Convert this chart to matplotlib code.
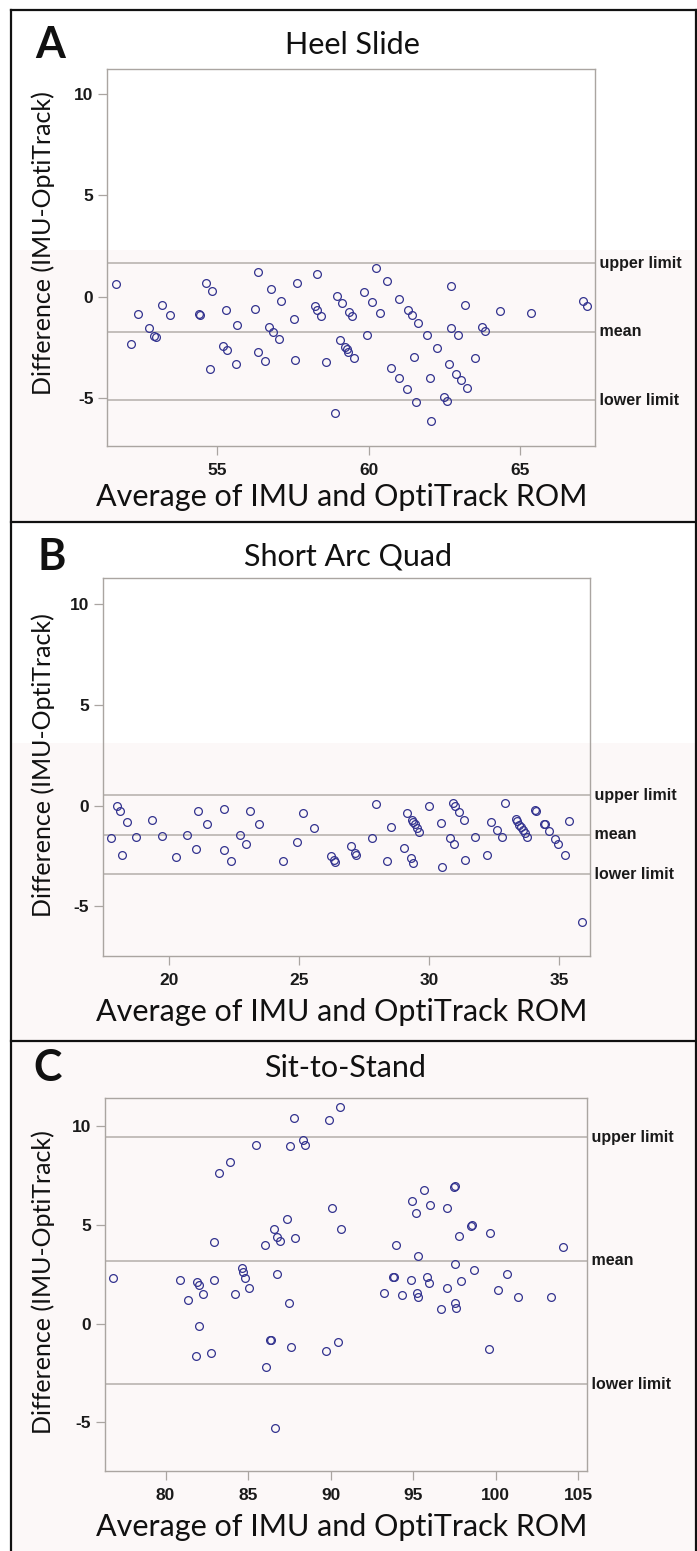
import matplotlib
matplotlib.use("Agg")
import matplotlib.pyplot as plt
from matplotlib.patches import Rectangle
from matplotlib.lines import Line2D

plt.rcParams["axes.unicode_minus"] = False

# ---------------- data ----------------
titles = ["Heel Slide", "Short Arc Quad", "Sit-to-Stand"]
panel_letters = ["A", "B", "C"]
limit_labels = ["upper limit", "mean", "lower limit"]
x_label = "Average of IMU and OptiTrack ROM"
y_label = "Difference (IMU-OptiTrack)"

heel_x = [51.64, 52.14, 52.38, 52.73, 52.91, 52.98, 53.18, 53.43, 54.38, 54.42,
          54.62, 54.76, 54.83, 55.18, 55.31, 55.28, 55.63, 55.66, 56.26, 56.34,
          56.34, 56.58, 56.71, 56.78, 56.85, 57.03, 57.10, 57.53, 57.56, 57.63,
          58.22, 58.30, 58.30, 58.43, 58.60, 58.88, 58.95, 59.13, 59.07, 59.22,
          59.28, 59.33, 59.51, 59.37, 59.44, 59.86, 59.94, 60.12, 60.25, 60.39,
          60.61, 60.73, 61.02, 61.02, 61.26, 61.30, 61.43, 61.51, 61.57, 61.65,
          61.93, 62.03, 62.07, 62.28, 62.49, 62.60, 62.66, 62.73, 62.73, 62.90,
          62.95, 63.05, 63.18, 63.26, 63.53, 63.74, 63.86, 64.34, 65.38, 67.10,
          67.22]
heel_y = [0.63, -2.31, -0.84, -1.53, -1.92, -2.00, -0.42, -0.90, -0.86, -0.88,
          0.66, -3.56, 0.30, -2.41, -2.62, -0.64, -3.30, -1.38, -0.59, 1.23,
          -2.74, -3.15, -1.48, 0.39, -1.74, -2.10, -0.23, -1.11, -3.10, 0.66,
          -0.47, 1.13, -0.64, -0.95, -3.20, -5.74, 0.03, -0.33, -2.13, -2.49,
          -2.59, -2.70, -3.03, -0.77, -0.97, 0.25, -1.90, -0.28, 1.40, -0.79,
          0.77, -3.51, -0.11, -4.02, -4.54, -0.64, -0.90, -2.98, -5.18, -1.31,
          -1.88, -4.02, -6.12, -2.51, -4.95, -5.13, -3.30, 0.51, -1.52, -3.82,
          -1.90, -4.08, -0.42, -4.49, -3.03, -1.51, -1.69, -0.69, -0.79, -0.21,
          -0.47]
heel_limits = [1.65, -1.73, -5.10]

saq_x = [17.80, 18.00, 18.13, 18.21, 18.41, 18.73, 19.35, 19.75, 20.28, 20.71,
         21.05, 21.13, 21.46, 22.11, 22.11, 22.39, 22.73, 22.97, 23.12, 23.46,
         24.38, 24.92, 25.16, 25.57, 26.24, 26.34, 26.40, 26.99, 27.17, 27.21,
         27.80, 27.96, 28.37, 28.53, 29.02, 29.14, 29.29, 29.38, 29.33, 29.39,
         29.46, 29.55, 29.62, 29.98, 30.45, 30.48, 30.80, 30.92, 30.99, 30.97,
         31.14, 31.34, 31.37, 31.77, 32.22, 32.39, 32.60, 32.80, 32.92, 33.33,
         33.36, 33.45, 33.53, 33.59, 33.68, 33.77, 34.08, 34.12, 34.43, 34.47,
         34.62, 34.83, 34.95, 35.23, 35.38, 35.88]
saq_y = [-1.61, -0.02, -0.29, -2.46, -0.82, -1.56, -0.72, -1.51, -2.56, -1.45,
         -2.14, -0.29, -0.92, -0.19, -2.19, -2.77, -1.45, -1.93, -0.29, -0.92,
         -2.77, -1.83, -0.36, -1.13, -2.49, -2.72, -2.78, -2.03, -2.36, -2.45,
         -1.61, 0.07, -2.77, -1.08, -2.09, -0.36, -2.61, -2.84, -0.70, -0.84,
         -0.93, -1.13, -1.30, -0.02, -0.87, -3.04, -1.61, 0.14, -0.02, -1.93,
         -0.31, -0.72, -2.72, -1.56, -2.46, -0.84, -1.20, -1.56, 0.12, -0.67,
         -0.77, -0.97, -1.08, -1.22, -1.35, -1.55, -0.22, -0.26, -0.90, -0.94,
         -1.25, -1.66, -1.93, -2.46, -0.77, -5.78]
saq_limits = [0.52, -1.44, -3.40]

sts_x = [76.83, 80.88, 81.37, 81.88, 82.02, 82.02, 81.82, 82.28, 82.72, 82.91,
         82.91, 83.23, 83.91, 84.21, 84.60, 84.66, 84.80, 85.04, 85.49, 85.99,
         86.05, 86.35, 86.39, 86.56, 86.64, 86.76, 86.76, 86.90, 87.34, 87.46,
         87.52, 87.58, 87.77, 87.83, 88.33, 88.47, 89.69, 89.87, 90.05, 90.43,
         90.55, 90.61, 93.21, 93.78, 93.82, 93.98, 94.30, 94.85, 94.93, 95.17,
         95.31, 95.25, 95.31, 95.62, 95.82, 95.94, 96.00, 96.65, 97.03, 97.03,
         97.49, 97.53, 97.77, 97.51, 97.51, 97.59, 97.89, 98.52, 98.56, 98.66,
         99.61, 99.67, 100.11, 100.68, 101.33, 103.34, 104.05]
sts_y = [2.30, 2.21, 1.20, 2.11, 1.95, -0.11, -1.64, 1.48, -1.49, 4.10,
         2.21, 7.59, 8.18, 1.48, 2.79, 2.62, 2.30, 1.78, 9.02, 3.95,
         -2.18, -0.81, -0.85, 4.79, -5.30, 4.37, 2.49, 4.16, 5.28, 1.05,
         8.97, -1.17, 10.39, 4.32, 9.28, 9.02, -1.39, 10.29, 5.86, -0.95,
         10.93, 4.79, 1.53, 2.33, 2.37, 3.95, 1.43, 2.20, 6.18, 5.59,
         3.43, 1.53, 1.36, 6.75, 2.37, 2.03, 6.01, 0.73, 5.84, 1.78,
         6.92, 6.96, 4.42, 3.01, 1.02, 0.77, 2.16, 4.93, 4.97, 2.69,
         -1.27, 4.59, 1.68, 2.52, 1.36, 1.32, 3.85]
sts_limits = [9.42, 3.17, -3.08]

x_ticks = [[55, 60, 65], [20, 25, 30, 35], [80, 85, 90, 95, 100, 105]]
y_ticks = [-5, 0, 5, 10]

panels_x = [heel_x, saq_x, sts_x]
panels_y = [heel_y, saq_y, sts_y]
panels_limits = [heel_limits, saq_limits, sts_limits]

# ---------------- layout (pixel geometry) ----------------
W, H = 697, 1551
fig = plt.figure(figsize=(W / 100, H / 100), dpi=100)
fig.patch.set_facecolor("white")


def fx(px):
    return px / W


def fy(py):
    return 1 - py / H


# faint tinted background regions as in the scanned figure
tint = "#fcf8f8"
for top, bot in [(250, 522), (743, 1041), (1041, 1551)]:
    fig.patches.append(Rectangle((fx(11), fy(bot)), fx(697) - fx(11), fy(top) - fy(bot),
                                 transform=fig.transFigure, facecolor=tint,
                                 edgecolor="none", zorder=-5))

# outer frame and separators
frame_kw = dict(transform=fig.transFigure, color="#111111", linewidth=1.6, zorder=5)
fig.lines.append(Line2D([fx(11), fx(11)], [fy(10), fy(1551)], **frame_kw))
fig.lines.append(Line2D([fx(11), fx(697)], [fy(10), fy(10)], **frame_kw))
fig.lines.append(Line2D([fx(696), fx(696)], [fy(10), fy(1551)], **frame_kw))
for sy in [522, 1041]:
    fig.lines.append(Line2D([fx(11), fx(697)], [fy(sy), fy(sy)], **frame_kw))

# axes boxes: left, right, top, bottom in pixels
boxes = [(107.3, 595.0, 69.0, 446.0),
         (102.7, 590.3, 578.3, 956.0),
         (105.0, 587.0, 1098.3, 1470.7)]
xlims = [(51.36, 67.49), (17.47, 36.19), (76.33, 105.52)]
ylims = [(-7.35, 11.21), (-7.47, 11.28), (-7.44, 11.39)]
title_y = [45, 557, 1068]
title_x = [352, 348, 345]
letter_xy = [(50, 45), (52, 557), (48, 1068)]
xlabel_y = [497, 1012, 1527]
ylabel_y = [243, 765, 1282]

spine_color = "#aaa5a1"
line_color = "#b3aeaa"
marker_color = "#33338f"
label_font = "Lato"

for i in range(3):
    l, r, t, b = boxes[i]
    ax = fig.add_axes([fx(l), fy(b), fx(r) - fx(l), fy(t) - fy(b)])
    ax.set_zorder(1)
    ax.patch.set_alpha(0)
    ax.set_xlim(*xlims[i])
    ax.set_ylim(*ylims[i])
    for s in ax.spines.values():
        s.set_color(spine_color)
        s.set_linewidth(1.0)
    ax.set_xticks(x_ticks[i])
    ax.set_yticks(y_ticks)
    ax.tick_params(direction="out", length=6.5, width=0.9, color=spine_color,
                   labelsize=12.5, labelcolor="#1a1a1a")
    ax.tick_params(axis="x", pad=6)
    ax.tick_params(axis="y", pad=3.5)
    for lab in ax.get_xticklabels() + ax.get_yticklabels():
        lab.set_fontfamily("Liberation Sans")
        lab.set_fontweight("bold")

    for val in panels_limits[i]:
        ax.axhline(val, color=line_color, linewidth=1.1, zorder=1)
    ax.plot(panels_x[i], panels_y[i], linestyle="none", marker="o",
            markersize=5.6, markerfacecolor="none", markeredgecolor=marker_color,
            markeredgewidth=0.9, zorder=3)

    for val, txt in zip(panels_limits[i], limit_labels):
        ax.text(1.0, val, " " + txt, transform=ax.get_yaxis_transform(),
                ha="left", va="center", fontsize=11.5, fontweight="bold",
                family="Liberation Sans", color="#1a1a1a", clip_on=False)

    fig.text(fx(title_x[i]), fy(title_y[i]), titles[i], ha="center", va="center",
             fontsize=22, family=label_font, color="#111111")
    fig.text(fx(letter_xy[i][0]), fy(letter_xy[i][1]), panel_letters[i],
             ha="center", va="center", fontsize=31, fontweight="bold",
             family=label_font, color="#111111")
    fig.text(fx(342), fy(xlabel_y[i]), x_label, ha="center", va="center",
             fontsize=22, family=label_font, color="#111111")
    fig.text(fx(43), fy(ylabel_y[i]), y_label, ha="center", va="center",
             rotation=90, fontsize=18, family=label_font, color="#111111")

fig.savefig("out.png", dpi=100)
